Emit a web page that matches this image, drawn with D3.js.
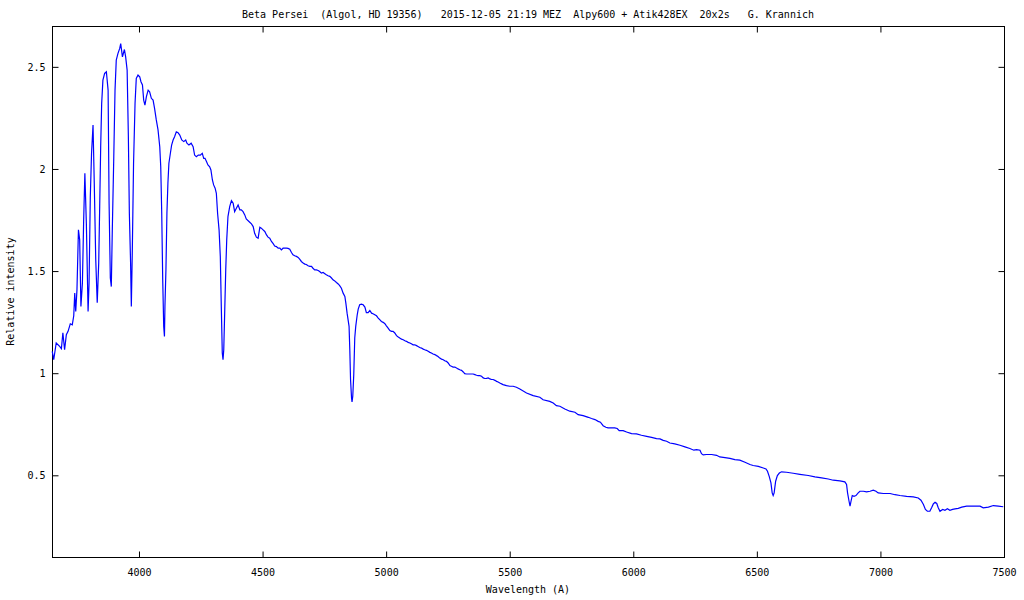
<!DOCTYPE html>
<html><head><meta charset="utf-8">
<script src="https://cdn.jsdelivr.net/npm/d3@7"></script>
<style>
html,body{margin:0;padding:0;background:#fff;}
svg{display:block;}
text{font-family:"DejaVu Sans Mono",monospace;font-size:10px;fill:#000;}
</style>
</head><body>
<svg id="chart" width="1024" height="600"></svg>
<script>
const chartTitle = "Beta Persei  (Algol, HD 19356)   2015-12-05 21:19 MEZ  Alpy600 + Atik428EX  20x2s   G. Krannich";
const xLabel = "Wavelength (A)";
const yLabel = "Relative intensity";
const xTicks = [4000, 4500, 5000, 5500, 6000, 6500, 7000, 7500];
const yTicks = [0.5, 1, 1.5, 2, 2.5];
const xDomain = [3648, 7500];
const yDomain = [0.1, 2.7];

const wavelength = [
3649,3655,3665,3679,3686,3692,3699,3706,3713,3722,
3730,3736,3740,3744,3749,3755,3760,3765,3771,3776,
3781,3787,3794,3798,3803,3808,3814,3819,3825,3831,
3837,3841,3845,3849,3854,3861,3868,3875,3879,3884,
3888,3892,3898,3903,3908,3915,3922,3926,3933,3941,
3946,3952,3957,3961,3966,3969,3973,3978,3984,3989,
3996,4003,4008,4014,4019,4024,4030,4037,4043,4050,
4057,4063,4070,4077,4084,4088,4092,4096,4100,4103,
4105,4109,4113,4117,4121,4127,4132,4138,4144,4151,
4158,4165,4173,4181,4189,4194,4202,4211,4219,4225,
4232,4240,4248,4256,4262,4267,4273,4279,4286,4291,
4297,4302,4308,4313,4318,4324,4329,4333,4337,4340,
4343,4347,4351,4355,4360,4367,4374,4381,4387,4394,
4401,4408,4414,4421,4428,4434,4448,4455,4462,4468,
4475,4482,4489,4495,4502,4509,4516,4522,4529,4536,
4543,4549,4556,4563,4570,4576,4583,4590,4597,4603,
4610,4617,4623,4630,4637,4644,4650,4657,4664,4671,
4677,4684,4691,4698,4704,4711,4718,4725,4731,4738,
4745,4752,4758,4765,4772,4779,4785,4792,4799,4806,
4812,4819,4826,4833,4837,4842,4850,4853,4856,4860,
4862,4865,4869,4873,4877,4883,4887,4893,4900,4907,
4914,4920,4927,4934,4941,4947,4954,4961,4968,4974,
4981,4988,4995,5001,5008,5015,5022,5028,5035,5042,
5049,5055,5062,5069,5076,5082,5089,5096,5102,5109,
5116,5123,5129,5136,5143,5150,5156,5163,5170,5177,
5183,5190,5197,5204,5210,5217,5224,5231,5237,5244,
5251,5258,5264,5271,5278,5285,5291,5298,5305,5312,
5318,5325,5339,5352,5359,5366,5372,5379,5386,5393,
5399,5406,5413,5420,5426,5433,5440,5447,5453,5460,
5473,5487,5500,5514,5527,5541,5568,5595,5622,5635,
5662,5676,5689,5703,5723,5743,5764,5777,5797,5818,
5831,5845,5858,5867,5878,5889,5898,5912,5925,5935,
5943,5959,5973,5993,6013,6033,6054,6074,6094,6108,
6121,6135,6148,6168,6189,6209,6229,6245,6256,6270,
6276,6283,6296,6317,6337,6350,6371,6391,6411,6431,
6452,6472,6485,6506,6526,6537,6543,6550,6557,6562,
6566,6570,6576,6583,6591,6600,6620,6647,6674,6708,
6735,6762,6789,6809,6836,6856,6863,6867,6873,6877,
6881,6886,6893,6901,6910,6917,6931,6944,6958,6971,
6982,6991,7012,7039,7059,7079,7106,7133,7153,7164,
7174,7182,7190,7200,7207,7214,7221,7228,7234,7241,
7252,7261,7271,7281,7292,7302,7315,7329,7349,7376,
7403,7416,7437,7457,7477,7497
];

const intensity = [
1.107,1.066,1.148,1.131,1.120,1.198,1.115,1.188,1.205,1.242,
1.237,1.281,1.392,1.302,1.408,1.702,1.653,1.327,1.441,1.742,
1.979,1.734,1.302,1.442,1.865,2.077,2.215,1.930,1.555,1.345,
1.539,1.816,2.109,2.321,2.435,2.468,2.476,2.386,1.832,1.466,
1.424,1.702,2.060,2.386,2.533,2.566,2.590,2.614,2.549,2.585,
2.549,2.484,2.158,1.783,1.539,1.327,1.604,2.028,2.321,2.443,
2.460,2.451,2.427,2.411,2.337,2.313,2.354,2.386,2.378,2.346,
2.337,2.297,2.240,2.191,2.109,2.011,1.783,1.457,1.229,1.180,
1.327,1.506,1.783,1.930,2.028,2.077,2.117,2.142,2.158,2.182,
2.178,2.166,2.142,2.134,2.142,2.126,2.117,2.126,2.109,2.068,
2.060,2.068,2.068,2.077,2.052,2.052,2.036,2.020,2.011,1.995,
1.946,1.922,1.906,1.881,1.783,1.702,1.571,1.327,1.099,1.066,
1.115,1.310,1.506,1.653,1.767,1.816,1.845,1.832,1.791,1.808,
1.824,1.800,1.800,1.791,1.775,1.755,1.739,1.731,1.718,1.685,
1.666,1.661,1.715,1.710,1.702,1.694,1.677,1.666,1.661,1.645,
1.634,1.623,1.620,1.612,1.612,1.604,1.612,1.612,1.612,1.611,
1.607,1.591,1.580,1.575,1.572,1.567,1.558,1.547,1.539,1.534,
1.532,1.526,1.523,1.523,1.514,1.506,1.506,1.503,1.498,1.490,
1.493,1.487,1.482,1.477,1.474,1.466,1.457,1.452,1.444,1.437,
1.429,1.416,1.392,1.376,1.343,1.294,1.229,1.115,0.968,0.879,
0.859,0.887,0.993,1.172,1.229,1.286,1.314,1.335,1.338,1.335,
1.324,1.297,1.297,1.307,1.294,1.291,1.286,1.281,1.270,1.262,
1.253,1.249,1.242,1.232,1.221,1.209,1.205,1.205,1.197,1.184,
1.177,1.172,1.167,1.164,1.159,1.156,1.151,1.148,1.144,1.139,
1.139,1.135,1.131,1.126,1.123,1.118,1.115,1.112,1.107,1.102,
1.099,1.094,1.091,1.086,1.082,1.074,1.069,1.066,1.061,1.058,
1.050,1.037,1.034,1.030,1.030,1.025,1.021,1.017,1.014,1.006,
0.998,0.996,0.996,0.996,0.993,0.990,0.988,0.988,0.985,0.977,
0.974,0.975,0.977,0.972,0.969,0.969,0.965,0.960,0.957,0.952,
0.944,0.939,0.936,0.936,0.931,0.923,0.903,0.890,0.882,0.870,
0.862,0.854,0.841,0.838,0.825,0.814,0.809,0.797,0.792,0.784,
0.778,0.773,0.764,0.760,0.743,0.735,0.732,0.732,0.732,0.729,
0.719,0.719,0.712,0.704,0.703,0.696,0.691,0.686,0.680,0.678,
0.671,0.667,0.658,0.654,0.647,0.639,0.631,0.623,0.626,0.623,
0.606,0.600,0.602,0.602,0.598,0.590,0.587,0.583,0.577,0.574,
0.564,0.553,0.548,0.544,0.536,0.531,0.520,0.495,0.463,0.414,
0.401,0.414,0.471,0.499,0.511,0.517,0.515,0.510,0.505,0.499,
0.492,0.487,0.482,0.476,0.473,0.468,0.455,0.414,0.373,0.349,
0.373,0.401,0.397,0.401,0.414,0.422,0.422,0.419,0.422,0.427,
0.422,0.414,0.411,0.411,0.405,0.401,0.397,0.394,0.389,0.378,
0.357,0.333,0.324,0.324,0.341,0.360,0.368,0.362,0.341,0.324,
0.333,0.329,0.336,0.329,0.333,0.336,0.338,0.344,0.349,0.349,
0.349,0.341,0.344,0.352,0.349,0.346
];

const svg = d3.select("#chart");
const L = 52, R = 1004, T = 26, B = 557;
const x = d3.scaleLinear().domain(xDomain).range([L, R]);
const y = d3.scaleLinear().domain(yDomain).range([B, T]);

// border box
svg.append("rect")
  .attr("x", L + 0.5).attr("y", T + 0.5)
  .attr("width", R - L).attr("height", B - T)
  .attr("fill", "none").attr("stroke", "#000").attr("stroke-width", 1);

const noDomain = g => g.select(".domain").remove();

svg.append("g").attr("transform", `translate(0,${B + 0.5})`)
  .call(d3.axisBottom(x).tickValues(xTicks).tickSizeInner(-6).tickSizeOuter(0)
        .tickPadding(11).tickFormat(d3.format("d")))
  .call(noDomain);
svg.append("g").attr("transform", `translate(0,${T + 0.5})`)
  .call(d3.axisTop(x).tickValues(xTicks).tickSizeInner(-6).tickSizeOuter(0).tickFormat(""))
  .call(noDomain);
svg.append("g").attr("transform", `translate(${L + 0.5},0)`)
  .call(d3.axisLeft(y).tickValues(yTicks).tickSizeInner(-6).tickSizeOuter(0)
        .tickPadding(7).tickFormat(d => String(d)))
  .call(noDomain);
svg.append("g").attr("transform", `translate(${R + 0.5},0)`)
  .call(d3.axisRight(y).tickValues(yTicks).tickSizeInner(-6).tickSizeOuter(0).tickFormat(""))
  .call(noDomain);

svg.selectAll(".tick text").style("font-family", '"DejaVu Sans Mono",monospace').style("font-size", "10px");

// spectrum
const pts = wavelength.map((w, i) => [w, intensity[i]]);
svg.append("path")
  .datum(pts)
  .attr("fill", "none")
  .attr("stroke", "#0000ff")
  .attr("stroke-width", 1.2)
  .attr("d", d3.line().x(d => x(d[0])).y(d => y(d[1])));

// texts
svg.append("text")
  .attr("x", (L + R) / 2).attr("y", 18)
  .attr("text-anchor", "middle")
  .attr("xml:space", "preserve").style("white-space", "pre")
  .text(chartTitle);
svg.append("text")
  .attr("x", (L + R) / 2).attr("y", 593)
  .attr("text-anchor", "middle")
  .text(xLabel);
svg.append("text")
  .attr("transform", `translate(14,${(T + B) / 2}) rotate(-90)`)
  .attr("text-anchor", "middle")
  .text(yLabel);
</script>
</body></html>
